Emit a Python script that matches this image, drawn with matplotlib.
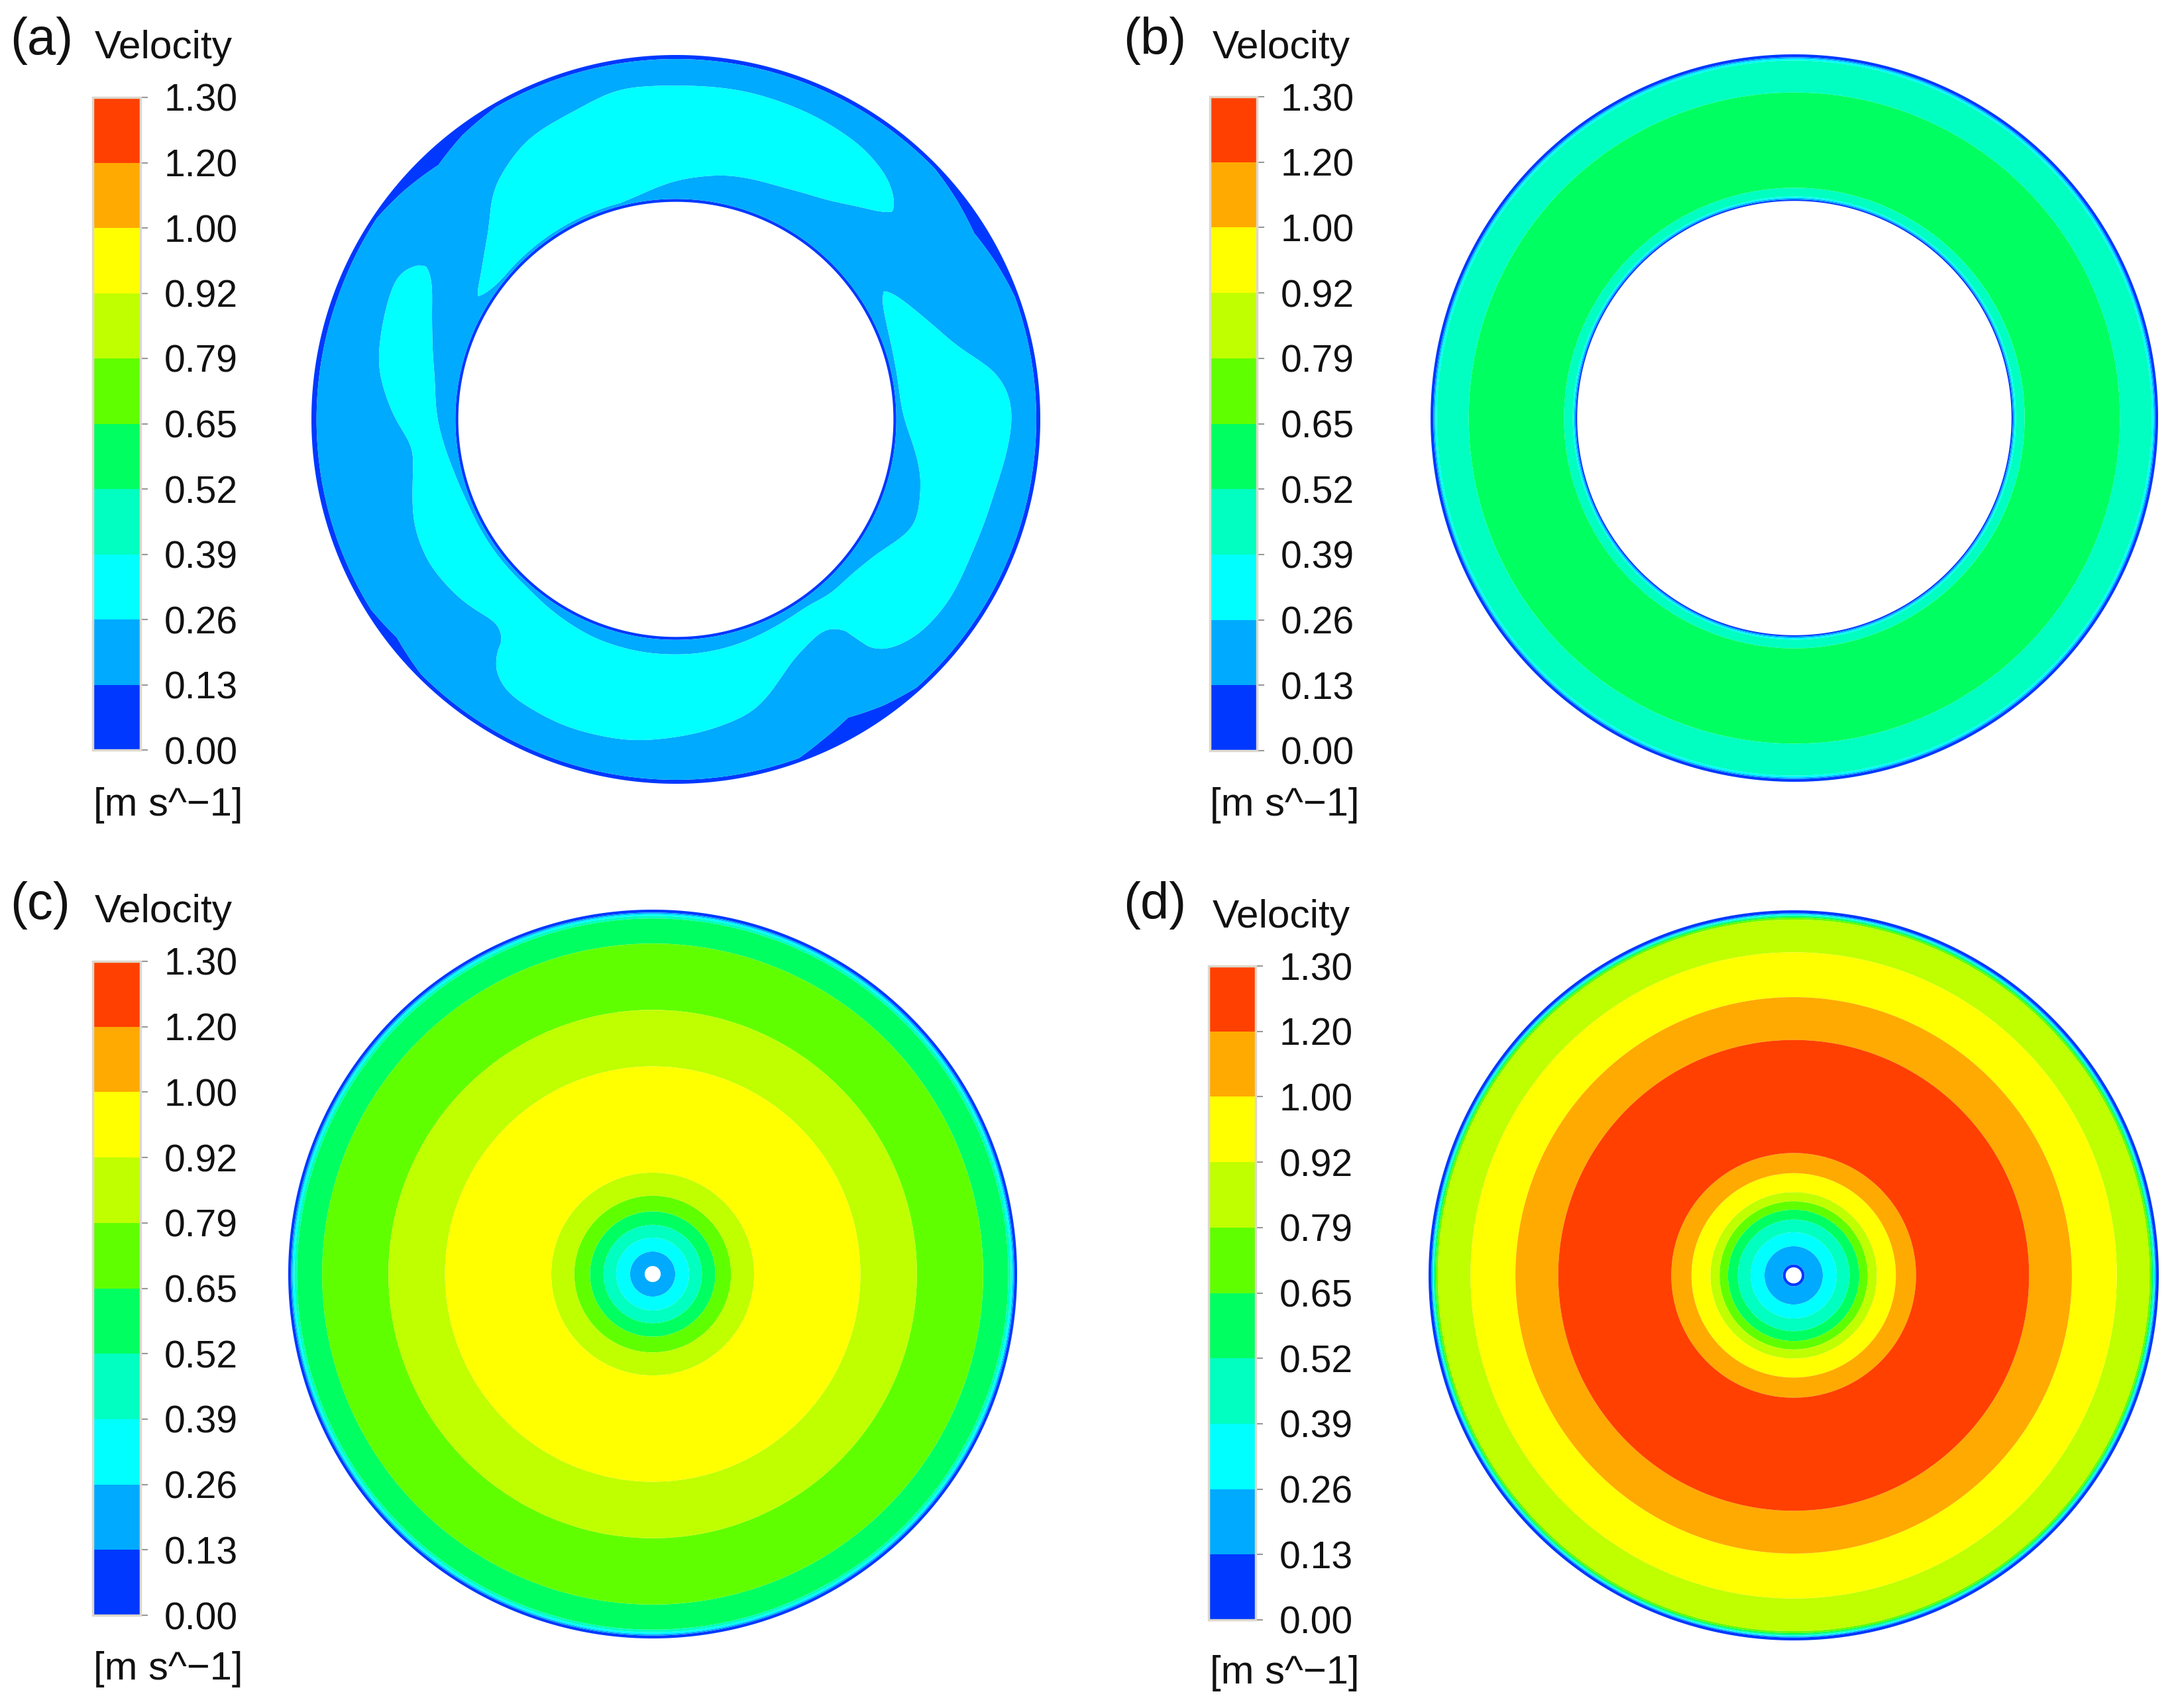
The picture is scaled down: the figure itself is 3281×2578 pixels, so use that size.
import numpy as np
import matplotlib
matplotlib.use("Agg")
import matplotlib.pyplot as plt
from matplotlib.colors import ListedColormap, BoundaryNorm
from matplotlib.cm import ScalarMappable

plt.rcParams['font.family'] = ['Liberation Sans', 'DejaVu Sans']

# ---------------- data ----------------
levels = [0.00, 0.13, 0.26, 0.39, 0.52, 0.65, 0.79, 0.92, 1.00, 1.20, 1.30]
band_colors = ['#0038FF', '#00AAFF', '#00FFFF', '#00FFC0', '#00FF60',
               '#60FF00', '#BFFF00', '#FFFF00', '#FFAA00', '#FF4000']
panel_labels = ['(a)', '(b)', '(c)', '(d)']
cbar_title = 'Velocity'
cbar_unit = '[m s^\u22121]'

# (a) annulus, irregular field: inner wall radius (fraction of outer radius)
a_inner = 0.597
# top cyan blob: angle (deg), inner edge, outer edge (fraction of outer radius)
a_top_ang = [43, 47, 55, 65, 78, 90, 100, 108, 118, 128, 135, 144, 150]
a_top_lo = [0.82, 0.785, 0.73, 0.70, 0.685, 0.655, 0.62, 0.607, 0.607, 0.607, 0.61, 0.615, 0.64]
a_top_hi = [0.82, 0.875, 0.905, 0.915, 0.92, 0.915, 0.92, 0.89, 0.87, 0.81, 0.725, 0.66, 0.64]
# long cyan blob (left -> bottom -> right), angles beyond 360 wrap
a_long_ang = [148, 151, 160, 170, 180, 186, 193, 202, 210, 220, 229, 231, 233, 237, 250, 262,
              275, 285, 296, 305, 308, 311, 318, 326, 336, 347, 358, 362, 367, 375, 383, 390, 393]
a_long_lo = [0.80, 0.76, 0.71, 0.67, 0.654, 0.64, 0.625, 0.615, 0.615, 0.615, 0.615, 0.618, 0.62,
             0.625, 0.64, 0.645, 0.645, 0.64, 0.63, 0.625, 0.63, 0.64, 0.64, 0.66, 0.72, 0.69,
             0.633, 0.62, 0.617, 0.62, 0.63, 0.65, 0.67]
a_long_hi = [0.80, 0.865, 0.85, 0.83, 0.77, 0.72, 0.74, 0.775, 0.785, 0.77, 0.74, 0.73, 0.83,
             0.88, 0.895, 0.89, 0.86, 0.83, 0.73, 0.70, 0.71, 0.85, 0.89, 0.90, 0.89, 0.895,
             0.92, 0.925, 0.905, 0.79, 0.73, 0.69, 0.67]
# thickness of low-velocity layer at outer wall vs angle
a_wall_ang = [0, 20, 26, 32, 38, 44, 120, 127, 133, 140, 146, 160, 200, 212, 218, 225,
              290, 294, 300, 306, 312, 360]
a_wall_t = [0.011, 0.011, 0.022, 0.035, 0.022, 0.011, 0.011, 0.025, 0.045, 0.025, 0.011,
            0.014, 0.014, 0.014, 0.028, 0.011, 0.011, 0.030, 0.055, 0.030, 0.011, 0.011]

# (b) annulus, radial profile
b_inner = 0.597
b_r = [0.597, 0.601, 0.605, 0.609, 0.613, 0.633, 0.76, 0.895, 0.95, 0.983, 0.988, 0.992, 1.0]
b_v = [0.00, 0.13, 0.26, 0.39, 0.45, 0.52, 0.60, 0.52, 0.46, 0.39, 0.26, 0.13, 0.00]

# (c) pipe, radial profile
c_inner = 0.022
c_r = [0.022, 0.062, 0.10, 0.135, 0.172, 0.215, 0.278, 0.43, 0.57, 0.725, 0.907,
       0.976, 0.983, 0.988, 0.992, 1.0]
c_v = [0.15, 0.26, 0.39, 0.52, 0.65, 0.79, 0.92, 0.97, 0.92, 0.79, 0.65,
       0.52, 0.39, 0.26, 0.13, 0.00]

# (d) pipe, radial profile
d_inner = 0.022
d_r = [0.022, 0.03, 0.08, 0.118, 0.153, 0.18, 0.203, 0.228, 0.28, 0.335, 0.49, 0.645,
       0.762, 0.885, 0.975, 0.980, 0.984, 0.987, 0.989, 0.992, 1.0]
d_v = [0.10, 0.13, 0.26, 0.39, 0.52, 0.65, 0.79, 0.92, 1.00, 1.20, 1.25, 1.20,
       1.00, 0.92, 0.79, 0.65, 0.52, 0.39, 0.26, 0.13, 0.00]

# ---------------- figure ----------------
W, H = 3281, 2578
fig = plt.figure(figsize=(W / 100, H / 100), dpi=100)
ax = fig.add_axes([0, 0, 1, 1])
ax.set_xlim(0, W)
ax.set_ylim(H, 0)
ax.axis('off')

cmap = ListedColormap(band_colors)
norm = BoundaryNorm(levels, cmap.N)


def polar_mesh(r_in, nr=1000, nt=1441):
    r = np.linspace(r_in, 1.0, nr)
    th = np.linspace(0, 2 * np.pi, nt)
    return np.meshgrid(r, th)


def smooth_theta(F, sigma_deg):
    """Periodic gaussian smoothing along the angle axis (axis 0)."""
    F0 = F[:-1]
    n = F0.shape[0]
    sig = sigma_deg / (360.0 / n)
    k = np.fft.fftfreq(n)
    kern = np.exp(-0.5 * (2 * np.pi * k * sig) ** 2)
    Fs = np.real(np.fft.ifft(np.fft.fft(F0, axis=0) * kern[:, None], axis=0))
    return np.vstack([Fs, Fs[:1]])


def draw(cx, cy, R, r, th, V):
    X = cx + R * r * np.cos(th)
    Y = cy - R * r * np.sin(th)
    ax.contourf(X, Y, V, levels=levels, colors=band_colors, antialiased=True)


# panel (a)
r, th = polar_mesh(a_inner)
deg = np.degrees(th) % 360.0
lo = np.interp(deg, a_top_ang, a_top_lo, left=2, right=2)
hi = np.interp(deg, a_top_ang, a_top_hi, left=0, right=0)
g_top = np.minimum(r - lo, hi - r)
degL = np.where(deg < 140, deg + 360, deg)
lo = np.interp(degL, a_long_ang, a_long_lo, left=2, right=2)
hi = np.interp(degL, a_long_ang, a_long_hi, left=0, right=0)
g_long = np.minimum(r - lo, hi - r)
g = np.clip(np.maximum(g_top, g_long), -0.04, 0.04)
g = smooth_theta(g, 2.5)
v_core = 0.26 + np.clip(1.5 * g, -0.07, 0.08)
t_out = np.interp(deg, a_wall_ang, a_wall_t)
t_in = 0.008
v_wall = 0.13 * np.minimum((1.0 - r) / t_out, (r - a_inner) / t_in)
Va = np.minimum(v_core, v_wall)
draw(1020, 633, 550, r, th, Va)

# panel (b)
r, th = polar_mesh(b_inner)
draw(2708, 631, 549, r, th, np.interp(r, b_r, b_v))

# panel (c)
r, th = polar_mesh(c_inner, nr=2000)
draw(985, 1923, 550, r, th, np.interp(r, c_r, c_v))

# panel (d)
r, th = polar_mesh(d_inner, nr=2000)
draw(2707, 1925, 551, r, th, np.interp(r, d_r, d_v))

# ---------------- colorbars & text ----------------
cbars = [  # x0, x1, y0, y1 in pixels
    (140, 212, 147, 1132),
    (1826, 1897, 146, 1133),
    (140, 212, 1451, 2438),
    (1824, 1895, 1458, 2445),
]
label_pos = [(15, 82), (1695, 82), (15, 1387), (1695, 1387)]
title_pos = [(143, 88), (1830, 88), (143, 1392), (1830, 1400)]
unit_pos = [(141, 1231), (1826, 1231), (141, 2535), (1826, 2541)]

for i, (x0, x1, y0, y1) in enumerate(cbars):
    cax = fig.add_axes([x0 / W, 1 - y1 / H, (x1 - x0) / W, (y1 - y0) / H])
    cb = fig.colorbar(ScalarMappable(norm=norm, cmap=cmap), cax=cax,
                      ticks=levels, spacing='uniform')
    cb.ax.set_yticklabels(['%.2f' % v for v in levels])
    cb.ax.tick_params(length=8, width=1.5, color='#999999', pad=18,
                      labelsize=41, labelcolor='#111111')
    cb.outline.set_edgecolor('#ddd8cc')
    cb.outline.set_linewidth(2.5)
    cb.ax.minorticks_off()
    ax.text(*label_pos[i], panel_labels[i], fontsize=56, ha='left', va='baseline',
            color='#111111')
    ax.text(*title_pos[i], cbar_title, fontsize=43.5, ha='left', va='baseline',
            color='#111111')
    ax.text(*unit_pos[i], cbar_unit, fontsize=43, ha='left', va='baseline',
            color='#111111')

fig.savefig('out.png', dpi=100)
